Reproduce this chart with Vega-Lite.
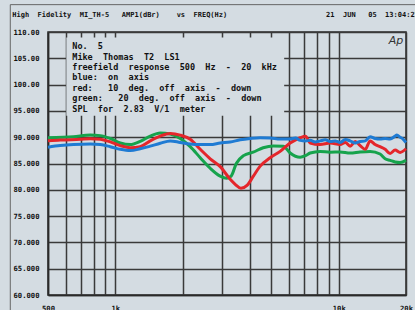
{
  "$schema": "https://vega.github.io/schema/vega-lite/v6.json",
  "width": 358,
  "height": 263,
  "autosize": {"type": "none"},
  "padding": {"left": 48, "top": 32, "right": 9, "bottom": 15},
  "background": "#d4dce2",
  "config": {"view": {"stroke": "#2a2a2a", "strokeWidth": 1.5}, "font": "DejaVu Sans Mono"},
  "resolve": {"axis": {"x": "independent", "y": "independent"}},
  "datasets": {
    "one": [{}],
    "curves": [
      {"s": "green", "f": 500, "db": 89.9}, {"s": "green", "f": 650, "db": 90.1}, {"s": "green", "f": 773, "db": 90.4},
      {"s": "green", "f": 857, "db": 90.3}, {"s": "green", "f": 950, "db": 89.75}, {"s": "green", "f": 1053, "db": 88.9},
      {"s": "green", "f": 1167, "db": 88.6}, {"s": "green", "f": 1293, "db": 89.2}, {"s": "green", "f": 1434, "db": 90.2},
      {"s": "green", "f": 1590, "db": 90.8}, {"s": "green", "f": 1762, "db": 90.6}, {"s": "green", "f": 1953, "db": 89.75},
      {"s": "green", "f": 2165, "db": 88.2}, {"s": "green", "f": 2400, "db": 86.1}, {"s": "green", "f": 2660, "db": 84.1},
      {"s": "green", "f": 2949, "db": 82.6}, {"s": "green", "f": 3150, "db": 82.2}, {"s": "green", "f": 3300, "db": 82.6},
      {"s": "green", "f": 3480, "db": 85.0}, {"s": "green", "f": 3750, "db": 86.5}, {"s": "green", "f": 4140, "db": 87.15},
      {"s": "green", "f": 4590, "db": 88.0}, {"s": "green", "f": 5100, "db": 88.35}, {"s": "green", "f": 5650, "db": 88.3},
      {"s": "green", "f": 6062, "db": 87.0}, {"s": "green", "f": 6720, "db": 86.2}, {"s": "green", "f": 7100, "db": 86.5},
      {"s": "green", "f": 7450, "db": 87.0}, {"s": "green", "f": 8257, "db": 87.3}, {"s": "green", "f": 9152, "db": 87.15},
      {"s": "green", "f": 10145, "db": 87.2}, {"s": "green", "f": 11245, "db": 87.0}, {"s": "green", "f": 12465, "db": 87.2},
      {"s": "green", "f": 13817, "db": 87.3}, {"s": "green", "f": 15315, "db": 86.8}, {"s": "green", "f": 16130, "db": 85.9},
      {"s": "green", "f": 16976, "db": 85.6}, {"s": "green", "f": 17880, "db": 85.3}, {"s": "green", "f": 18817, "db": 85.2},
      {"s": "green", "f": 20000, "db": 85.6},
      {"s": "red", "f": 500, "db": 89.3}, {"s": "red", "f": 567, "db": 89.45}, {"s": "red", "f": 697, "db": 89.6},
      {"s": "red", "f": 773, "db": 89.7}, {"s": "red", "f": 857, "db": 89.6}, {"s": "red", "f": 950, "db": 89.1},
      {"s": "red", "f": 1053, "db": 88.4}, {"s": "red", "f": 1167, "db": 88.0}, {"s": "red", "f": 1293, "db": 88.2},
      {"s": "red", "f": 1434, "db": 89.3}, {"s": "red", "f": 1590, "db": 90.2}, {"s": "red", "f": 1762, "db": 90.7},
      {"s": "red", "f": 1953, "db": 90.4}, {"s": "red", "f": 2165, "db": 89.6}, {"s": "red", "f": 2400, "db": 87.7},
      {"s": "red", "f": 2660, "db": 85.9}, {"s": "red", "f": 2949, "db": 84.4}, {"s": "red", "f": 3268, "db": 82.0},
      {"s": "red", "f": 3450, "db": 81.0}, {"s": "red", "f": 3650, "db": 80.3}, {"s": "red", "f": 3900, "db": 80.9},
      {"s": "red", "f": 4150, "db": 82.6}, {"s": "red", "f": 4451, "db": 84.5}, {"s": "red", "f": 4934, "db": 86.1},
      {"s": "red", "f": 5469, "db": 87.3}, {"s": "red", "f": 6062, "db": 88.9}, {"s": "red", "f": 6720, "db": 89.9},
      {"s": "red", "f": 7100, "db": 90.2}, {"s": "red", "f": 7449, "db": 88.9}, {"s": "red", "f": 8257, "db": 88.6},
      {"s": "red", "f": 9152, "db": 88.9}, {"s": "red", "f": 10145, "db": 88.6}, {"s": "red", "f": 10700, "db": 89.0},
      {"s": "red", "f": 11245, "db": 88.3}, {"s": "red", "f": 11850, "db": 89.2}, {"s": "red", "f": 12465, "db": 88.4},
      {"s": "red", "f": 13140, "db": 87.7}, {"s": "red", "f": 13817, "db": 89.3}, {"s": "red", "f": 14550, "db": 88.6},
      {"s": "red", "f": 15315, "db": 88.2}, {"s": "red", "f": 16130, "db": 87.7}, {"s": "red", "f": 16976, "db": 86.9},
      {"s": "red", "f": 17880, "db": 87.55}, {"s": "red", "f": 18817, "db": 87.1}, {"s": "red", "f": 20000, "db": 87.8},
      {"s": "blue", "f": 500, "db": 88.1}, {"s": "blue", "f": 567, "db": 88.4}, {"s": "blue", "f": 650, "db": 88.6},
      {"s": "blue", "f": 773, "db": 88.7}, {"s": "blue", "f": 857, "db": 88.6}, {"s": "blue", "f": 950, "db": 88.2},
      {"s": "blue", "f": 1053, "db": 87.7}, {"s": "blue", "f": 1167, "db": 87.45}, {"s": "blue", "f": 1293, "db": 87.8},
      {"s": "blue", "f": 1434, "db": 88.3}, {"s": "blue", "f": 1590, "db": 88.85}, {"s": "blue", "f": 1762, "db": 89.3},
      {"s": "blue", "f": 1953, "db": 89.0}, {"s": "blue", "f": 2165, "db": 88.7}, {"s": "blue", "f": 2400, "db": 88.6},
      {"s": "blue", "f": 2660, "db": 88.6}, {"s": "blue", "f": 2949, "db": 88.9}, {"s": "blue", "f": 3268, "db": 89.1},
      {"s": "blue", "f": 3622, "db": 89.5}, {"s": "blue", "f": 4015, "db": 89.75}, {"s": "blue", "f": 4451, "db": 89.9},
      {"s": "blue", "f": 4934, "db": 89.85}, {"s": "blue", "f": 5469, "db": 89.65}, {"s": "blue", "f": 6062, "db": 89.65},
      {"s": "blue", "f": 6400, "db": 89.85}, {"s": "blue", "f": 6720, "db": 89.4}, {"s": "blue", "f": 7100, "db": 89.3},
      {"s": "blue", "f": 7449, "db": 89.4}, {"s": "blue", "f": 7850, "db": 89.1}, {"s": "blue", "f": 8257, "db": 89.3},
      {"s": "blue", "f": 8700, "db": 89.5}, {"s": "blue", "f": 9152, "db": 89.2}, {"s": "blue", "f": 9650, "db": 89.3},
      {"s": "blue", "f": 10145, "db": 89.0}, {"s": "blue", "f": 10700, "db": 89.55}, {"s": "blue", "f": 11245, "db": 89.3},
      {"s": "blue", "f": 11850, "db": 88.9}, {"s": "blue", "f": 12465, "db": 89.2}, {"s": "blue", "f": 13140, "db": 89.3},
      {"s": "blue", "f": 13817, "db": 90.1}, {"s": "blue", "f": 14550, "db": 89.75}, {"s": "blue", "f": 15315, "db": 89.65},
      {"s": "blue", "f": 16130, "db": 89.75}, {"s": "blue", "f": 16976, "db": 89.65}, {"s": "blue", "f": 17880, "db": 90.2},
      {"s": "blue", "f": 18200, "db": 90.4}, {"s": "blue", "f": 18817, "db": 90.0}, {"s": "blue", "f": 19400, "db": 89.65},
      {"s": "blue", "f": 20000, "db": 89.0}
    ]
  },
  "layer": [
    {
      "data": {"name": "curves"},
      "mark": {"type": "line", "strokeWidth": 3, "interpolate": "monotone"},
      "encoding": {
        "x": {
          "field": "f", "type": "quantitative",
          "scale": {"type": "log", "domain": [500, 20000], "nice": false},
          "axis": {
            "title": null, "zindex": 0,
            "values": [500, 600, 700, 800, 900, 1000, 2000, 3000, 4000, 5000, 6000, 7000, 8000, 9000, 10000, 20000],
            "labelExpr": "datum.value == 500 ? '500' : datum.value == 1000 ? '1k' : datum.value == 10000 ? '10k' : datum.value == 20000 ? '20k' : ''",
            "grid": true, "gridColor": "#3a3a3a", "gridWidth": 1.5,
            "ticks": false, "domainColor": "#2a2a2a", "domainWidth": 1.5,
            "labelFont": "DejaVu Sans Mono", "labelFontWeight": "bold", "labelFontSize": 7.2, "labelColor": "#111",
            "labelPadding": 9, "labelOverlap": false, "labelBound": false, "labelFlush": false
          }
        },
        "y": {
          "field": "db", "type": "quantitative",
          "scale": {"domain": [60, 110], "nice": false, "zero": false},
          "axis": {
            "title": null, "zindex": 0,
            "values": [60, 65, 70, 75, 80, 85, 90, 95, 100, 105, 110],
            "labelExpr": "datum.value >= 100 ? format(datum.value, '.2f') : format(datum.value, '.3f')",
            "grid": true, "gridColor": "#3a3a3a", "gridWidth": 1.5,
            "ticks": false, "domainColor": "#2a2a2a", "domainWidth": 1.5,
            "labelFont": "DejaVu Sans Mono", "labelFontWeight": "bold", "labelFontSize": 7.2, "labelColor": "#111",
            "labelPadding": 9, "labelOverlap": false, "labelBound": false, "labelFlush": false
          }
        },
        "color": {
          "field": "s", "type": "nominal",
          "scale": {"domain": ["green", "red", "blue"], "range": ["#16a34c", "#e4262b", "#1f7bd3"]},
          "legend": null
        }
      }
    },
    {
      "data": {"name": "one"},
      "mark": {"type": "rect", "fill": "#d4dce2", "stroke": null},
      "encoding": {
        "x": {"datum": 604, "type": "quantitative", "axis": null},
        "x2": {"datum": 5700},
        "y": {"datum": 108.95, "type": "quantitative", "axis": null},
        "y2": {"datum": 94.1}
      }
    },
    {
      "data": {"name": "one"},
      "mark": {"type": "text", "align": "left", "baseline": "middle", "font": "DejaVu Sans Mono", "fontWeight": "bold", "fontSize": 8.5, "lineHeight": 10.4, "color": "#111",
        "text": ["No.\u00a0 5", "Mike\u00a0 Thomas\u00a0 T2\u00a0 LS1", "freefield\u00a0 response\u00a0 500\u00a0 Hz\u00a0 -\u00a0 20\u00a0 kHz", "blue:\u00a0 on\u00a0 axis", "red:\u00a0 \u00a010\u00a0 deg.\u00a0 off\u00a0 axis\u00a0 -\u00a0 down", "green:\u00a0 \u00a020\u00a0 deg.\u00a0 off\u00a0 axis\u00a0 -\u00a0 down", "SPL\u00a0 for\u00a0 2.83\u00a0 V/1\u00a0 meter"]},
      "encoding": {
        "x": {"datum": 642, "type": "quantitative", "axis": null},
        "y": {"datum": 107.3, "type": "quantitative", "axis": null}
      }
    },
    {
      "data": {"name": "one"},
      "mark": {"type": "text", "align": "center", "baseline": "middle", "font": "DejaVu Sans", "fontStyle": "italic", "fontSize": 11, "color": "#333", "text": "Ap"},
      "encoding": {
        "x": {"datum": 18060, "type": "quantitative", "axis": null},
        "y": {"datum": 108.2, "type": "quantitative", "axis": null}
      }
    },
    {
      "data": {"name": "one"},
      "mark": {"type": "text", "align": "left", "baseline": "middle", "font": "DejaVu Sans Mono", "fontWeight": "bold", "fontSize": 7, "color": "#111",
        "text": "High\u00a0 Fidelity\u00a0 MI_TH-5\u00a0 \u00a0AMP1(dBr)\u00a0 \u00a0 vs\u00a0 FREQ(Hz)"},
      "encoding": {
        "x": {"datum": 346, "type": "quantitative", "axis": null},
        "y": {"datum": 113.3, "type": "quantitative", "axis": null}
      }
    },
    {
      "data": {"name": "one"},
      "mark": {"type": "text", "align": "left", "baseline": "middle", "font": "DejaVu Sans Mono", "fontWeight": "bold", "fontSize": 7, "color": "#111",
        "text": "21\u00a0 JUN\u00a0 \u00a005\u00a0 13:04:23"},
      "encoding": {
        "x": {"datum": 8780, "type": "quantitative", "axis": null},
        "y": {"datum": 113.3, "type": "quantitative", "axis": null}
      }
    },
    {
      "data": {"name": "one"},
      "mark": {"type": "rect", "fill": null, "stroke": "#666", "strokeWidth": 1},
      "encoding": {
        "x": {"datum": 339, "type": "quantitative", "axis": null},
        "x2": {"datum": 40000},
        "y": {"datum": 115.2, "type": "quantitative", "axis": null},
        "y2": {"datum": 50}
      }
    }
  ]
}
